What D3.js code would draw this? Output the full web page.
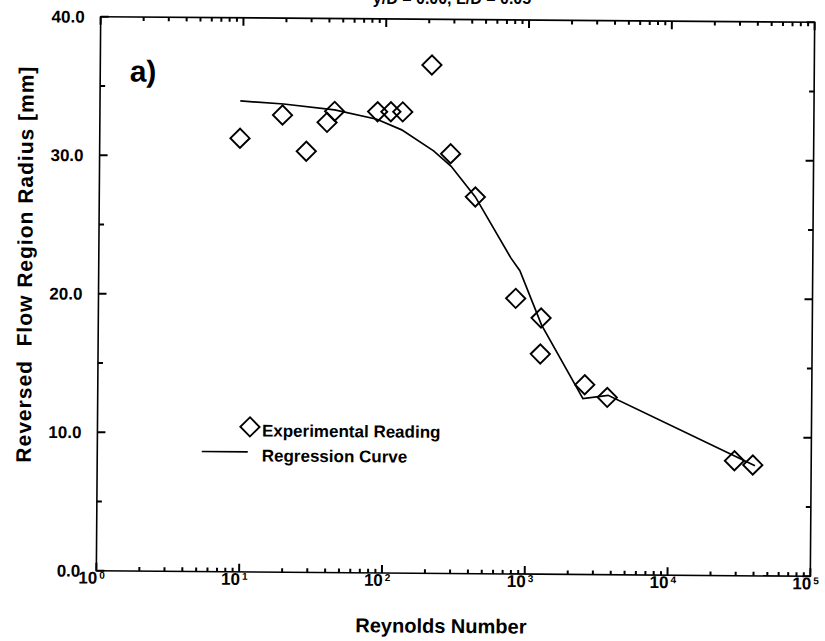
<!DOCTYPE html>
<html>
<head>
<meta charset="utf-8">
<script src="https://cdn.jsdelivr.net/npm/d3@7"></script>
<style>
  html, body { margin: 0; padding: 0; background: #fff; }
  svg { display: block; }
  text { font-family: "Liberation Sans", Arial, Helvetica, sans-serif; font-weight: bold; fill: #000; }
</style>
</head>
<body>
<svg id="chart" width="825" height="641"></svg>
<script>
// ---- data ----
const expRe     = [9.6, 19, 28, 39, 44, 88, 109, 132, 210, 287, 430, 835, 1260, 1250, 2570, 3700, 29000, 39000];
const expRadius = [31.3, 33.0, 30.4, 32.5, 33.3, 33.3, 33.3, 33.3, 36.7, 30.3, 27.2, 19.9, 18.5, 15.9, 13.7, 12.8, 8.3, 8.0];

const curveRe     = [9.6, 19.3, 44, 87, 130, 218, 290, 430, 770, 890, 1270, 2500, 3750, 40400];
const curveRadius = [34.0, 33.8, 33.4, 32.75, 32.0, 30.5, 29.4, 27.2, 22.8, 21.9, 18.0, 12.7, 12.95, 7.95];

const xMajorTicks = [1, 10, 100, 1000, 10000, 100000];
const xTickExponents = ["0", "1", "2", "3", "4", "5"];
const yMajorTicks = [0, 10, 20, 30, 40];
const yTickLabels = ["0.0", "10.0", "20.0", "30.0", "40.0"];
const yMinorTicks = [5, 15, 25, 35];

const xTitle = "Reynolds Number";
const yTitle = "Reversed  Flow Region Radius [mm]";
const panelLabel = "a)";
const legendLabels = ["Experimental Reading", "Regression Curve"];
const topCaption = "y/D = 0.00, L/D = 0.05";

// ---- layout ----
const svg = d3.select("#chart");
svg.append("rect").attr("width", 825).attr("height", 641).attr("fill", "#fff");

const L = 98.5, R = 812.5, T = 19.5, B = 573.5;
const g = svg.append("g").attr("transform", "rotate(0.45, 455.5, 296.5)");

const x = d3.scaleLog().domain([1, 1e5]).range([L, R]);
const y = d3.scaleLinear().domain([0, 40]).range([B, T]);

const xMinorTicks = [];
xMajorTicks.slice(0, -1).forEach(d => { for (let k = 2; k <= 9; k++) xMinorTicks.push(d * k); });

const xTickData = xMajorTicks.map(v => ({ v: v, len: 8 })).concat(xMinorTicks.map(v => ({ v: v, len: 4 })));
const yTickData = yMajorTicks.map(v => ({ v: v, len: 8 })).concat(yMinorTicks.map(v => ({ v: v, len: 5 })));

// frame
g.append("rect").attr("x", L).attr("y", T).attr("width", R - L).attr("height", B - T)
  .attr("fill", "none").attr("stroke", "#000").attr("stroke-width", 1.6);

// ticks, pointing inward, as paths
const tickPaths = [];
xTickData.forEach(d => {
  const px = x(d.v);
  tickPaths.push(`M${px},${B}V${B - d.len}`);
  tickPaths.push(`M${px},${T}V${T + d.len}`);
});
yTickData.forEach(d => {
  const py = y(d.v);
  tickPaths.push(`M${L},${py}H${L + d.len}`);
  tickPaths.push(`M${R},${py}H${R - d.len}`);
});
g.append("path").attr("class", "ticks").attr("d", tickPaths.join(""))
  .attr("fill", "none").attr("stroke", "#000").attr("stroke-width", 2);

// y tick labels
g.selectAll("text.ylab").data(yMajorTicks).enter().append("text").attr("class", "ylab")
  .attr("x", L - 16).attr("y", d => y(d)).attr("dy", "0.36em")
  .attr("text-anchor", "end").attr("font-size", 17)
  .text((d, i) => yTickLabels[i]);

// x tick labels 10^n
const xl = g.selectAll("g.xlab").data(xMajorTicks).enter().append("g").attr("class", "xlab");
xl.append("text").attr("x", d => x(d) + 1).attr("y", B + 13)
  .attr("text-anchor", "end").attr("font-size", 17).text("10");
xl.append("text").attr("x", d => x(d) + 3).attr("y", B + 8)
  .attr("text-anchor", "start").attr("font-size", 10).text((d, i) => xTickExponents[i]);

// axis titles
g.append("text").attr("x", 443.5).attr("y", 633).attr("text-anchor", "middle")
  .attr("font-size", 20).text(xTitle);
g.append("text").attr("transform", "translate(32,268) rotate(-90)")
  .attr("text-anchor", "middle").attr("font-size", 21)
  .style("white-space", "pre").attr("textLength", 396).attr("lengthAdjust", "spacing")
  .text(yTitle);

// caption at very top (cut off by the page edge, as in the reference)
svg.append("text").attr("x", 452).attr("y", 4).attr("text-anchor", "middle")
  .attr("font-size", 16).text(topCaption);

// panel label
g.append("text").attr("x", 128).attr("y", 84).attr("font-size", 30).text(panelLabel);

// regression curve
const line = d3.line().x(d => x(d[0])).y(d => y(d[1]));
g.append("path").datum(curveRe.map((d, i) => [d, curveRadius[i]]))
  .attr("d", line).attr("fill", "none").attr("stroke", "#000").attr("stroke-width", 1.7);

// experimental diamonds
const diamond = d3.symbol().type(d3.symbolSquare).size(185);
g.selectAll("path.pt").data(expRe.map((d, i) => [d, expRadius[i]])).enter().append("path").attr("class", "pt")
  .attr("d", diamond)
  .attr("transform", d => `translate(${x(d[0])},${y(d[1])}) rotate(45)`)
  .attr("fill", "none").attr("stroke", "#000").attr("stroke-width", 1.9);

// legend
g.append("path").attr("d", diamond).attr("transform", "translate(251,428.5) rotate(45)")
  .attr("fill", "none").attr("stroke", "#000").attr("stroke-width", 1.9);
g.append("text").attr("x", 263).attr("y", 438).attr("font-size", 17).text(legendLabels[0]);
g.append("line").attr("x1", 203).attr("x2", 249).attr("y1", 453.5).attr("y2", 453.5)
  .attr("stroke", "#000").attr("stroke-width", 1.7);
g.append("text").attr("x", 263).attr("y", 463).attr("font-size", 17).text(legendLabels[1]);
</script>
</body>
</html>
